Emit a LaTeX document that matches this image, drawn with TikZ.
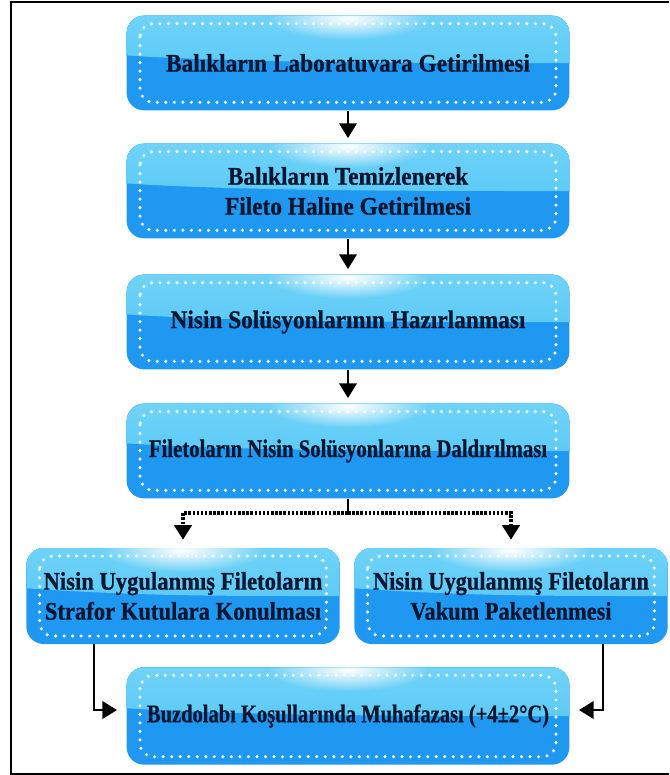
\documentclass[tikz,border=0pt]{standalone}
\usepackage{fontspec}
\usepackage{graphicx}
\newfontfamily\stepfam{Liberation Serif}[FakeStretch=0.92, BoldFeatures={FakeBold=0.8}]
\usetikzlibrary{arrows.meta,calc,fadings}
\definecolor{boxlow}{HTML}{1E98F0}
\definecolor{glosstop}{HTML}{70D3F8}
\definecolor{glossbot}{HTML}{4AC2F4}
\definecolor{txtcol}{HTML}{0A1530}
\newcommand\narrow[2]{\scalebox{#1}[1]{#2}}
\tikzfading[name=glowfade, inner color=transparent!0, outer color=transparent!100]
\tikzset{
  stepbox/.style={rounded corners=13pt, fill=boxlow, minimum width=332pt, minimum height=71pt,
    inner sep=0pt, align=center, text=txtcol, font=\stepfam\bfseries\fontsize{19}{22.5}\selectfont,
    path picture={
      \def\pb{path picture bounding box}
      \fill[top color=glosstop, bottom color=glossbot, sharp corners]
        (\pb.north west) -- (\pb.north east) -- ($(\pb.north east)!0.5!(\pb.south east)$)
        .. controls ($(\pb.north east)!0.5!(\pb.south east)+(-90pt,0pt)$) and ($(\pb.north west)!0.42!(\pb.south west)+(90pt,-6pt)$) ..
        ($(\pb.north west)!0.42!(\pb.south west)$) -- cycle;
      \fill[white, path fading=glowfade] ($(\pb.north)+(0,-2pt)$) ellipse [x radius=60pt, y radius=16pt];
      \draw[white, line width=2.6pt, dash pattern=on 0pt off 6.4pt, line cap=round, rounded corners=10pt]
        ($(\pb.north west)+(10pt,-6pt)$) rectangle ($(\pb.south east)+(-10pt,6pt)$);
    }},
  halfbox/.style={stepbox, minimum width=235pt, minimum height=72pt},
  flow/.style={-{Triangle[width=13pt,length=11pt]}, line width=1.9pt, shorten >=4pt},
  dotflow/.style={flow, line width=2.5pt, dash pattern=on 1.9pt off 1.2pt, shorten >=6pt}
}

\begin{document}
\begin{tikzpicture}[x=0.75pt,y=-0.75pt]
  \useasboundingbox (0,0) rectangle (669,775);
  \draw[line width=1.5pt] (669,1.5) -- (11,1.5) -- (11,773.5) -- (669,773.5);

  \node[stepbox] (b1) at (348,63) {Balıkların Laboratuvara Getirilmesi};
  \node[stepbox] (b2) at (348,191) {Balıkların Temizlenerek\\Fileto Haline Getirilmesi};
  \node[stepbox] (b3) at (348,322) {Nisin Solüsyonlarının Hazırlanması};
  \node[stepbox] (b4) at (348,451) {\narrow{0.89}{Filetoların Nisin Solüsyonlarına Daldırılması}};
  \node[halfbox] (b5) at (183,596) {\narrow{0.97}{Nisin Uygulanmış Filetoların}\\\narrow{0.97}{Strafor Kutulara Konulması}};
  \node[halfbox] (b6) at (511,596) {\narrow{0.96}{Nisin Uygulanmış Filetoların}\\\narrow{0.96}{Vakum Paketlenmesi}};
  \node[stepbox, minimum height=73pt] (b7) at (348,716) {\narrow{0.88}{Buzdolabı Koşullarında Muhafazası (+4±2°C)}};

  \draw[flow] (b1) -- (b2);
  \draw[flow] (b2) -- (b3);
  \draw[flow] (b3) -- (b4);

  \coordinate (split) at (348,513);
  \draw[line width=1.9pt] (b4) -- (split);
  \draw[dotflow] (split) -| (b5);
  \draw[dotflow] (split) -| (b6);

  \draw[flow, shorten >=7pt] ([xshift=-66.75pt]b5.south) |- ([yshift=4.5pt]b7.west);
  \draw[flow, shorten >=7pt] ([xshift=69pt]b6.south) |- ([yshift=4.5pt]b7.east);
\end{tikzpicture}
\end{document}
